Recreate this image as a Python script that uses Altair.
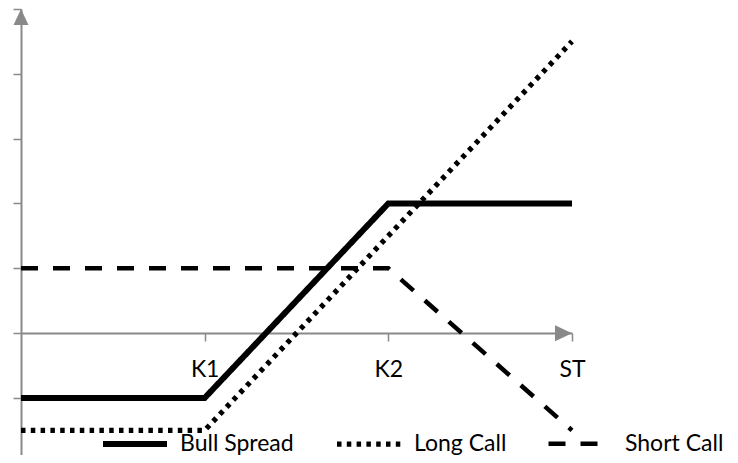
import altair as alt
import pandas as pd

# ---- data ----
x_vals = [0, 1, 2, 3]
x_labels = ["", "K1", "K2", "ST"]
series_names = ["Bull Spread", "Long Call", "Short Call"]
bull_spread = [-1, -1, 2, 2]
long_call = [-1.5, -1.5, 1.5, 4.5]
short_call = [1, 1, 1, -1.5]
y_ticks = [-2, -1, 0, 1, 2, 3, 4, 5]

x_domain = [0, 3]
y_domain = [-1.88, 5]

rows = []
for name, vals in zip(series_names, [bull_spread, long_call, short_call]):
    for x, v in zip(x_vals, vals):
        rows.append({"x": x, "value": v, "series": name})
df = pd.DataFrame(rows)

label_expr = " : ".join(
    f"datum.value == {v} ? '{l}'" for v, l in zip(x_vals, x_labels)
) + " : ''"

GRAY = "#898989"
FONT = "Lato"
FS = 23

x_scale = alt.Scale(domain=x_domain, nice=False, zero=False)
y_scale = alt.Scale(domain=y_domain, nice=False, zero=False)

legend = alt.Legend(
    title=None, orient="none", legendX=79, legendY=400,
    direction="horizontal", symbolType="stroke", symbolSize=4096,
    symbolStrokeColor="#000", labelFont=FONT, labelFontSize=FS,
    labelColor="#000", labelOffset=10, columnPadding=32, padding=0,
    labelLimit=0,
)

lines = alt.Chart(df).mark_line(strokeCap="butt").encode(
    x=alt.X("x:Q", scale=x_scale, axis=alt.Axis(
        values=x_vals[1:], labelExpr=label_expr, title=None, grid=False,
        domainColor=GRAY, domainWidth=2, tickColor=GRAY, tickWidth=1.5,
        tickSize=8, labelFont=FONT, labelFontSize=FS, labelColor="#000",
        labelPadding=17, offset=-122, labelFlush=False)),
    y=alt.Y("value:Q", scale=y_scale, axis=alt.Axis(
        values=y_ticks, labels=False, title=None, grid=False,
        domainColor=GRAY, domainWidth=2, tickColor=GRAY, tickWidth=1.5,
        tickSize=8)),
    color=alt.Color("series:N", scale=alt.Scale(domain=series_names,
                    range=["#000000"] * 3), legend=legend),
    strokeDash=alt.StrokeDash("series:N", scale=alt.Scale(
        domain=series_names, range=[[1, 0], [4.5, 5.3], [17, 15]]),
        legend=legend),
    strokeWidth=alt.StrokeWidth("series:N", scale=alt.Scale(
        domain=series_names, range=[6, 4.5, 4.5]), legend=legend),
    order="x:Q",
)

y_arrow_df = pd.DataFrame({"x": [x_domain[0]], "value": [y_domain[1]]})
x_arrow_df = pd.DataFrame({"x": [x_domain[1]], "value": [0]})

y_arrow = alt.Chart(y_arrow_df).mark_point(
    shape="M0,0 L0.9375,2 L-0.9375,2 Z", size=256, filled=True,
    color=GRAY, opacity=1, strokeWidth=0).encode(
    x=alt.X("x:Q", scale=x_scale), y=alt.Y("value:Q", scale=y_scale))

x_arrow = alt.Chart(x_arrow_df).mark_point(
    shape="M0,0 L-2.125,-1 L-2.125,1 Z", size=256, filled=True,
    color=GRAY, opacity=1, strokeWidth=0).encode(
    x=alt.X("x:Q", scale=x_scale), y=alt.Y("value:Q", scale=y_scale))

chart = alt.layer(lines, y_arrow, x_arrow).properties(
    width=551, height=446,
    autosize=alt.AutoSizeParams(type="none"),
    padding={"left": 13, "top": 1, "right": 158, "bottom": 0},
).configure(background="white").configure_view(strokeWidth=0, stroke=None)

chart.save("out.html", embed_options={"renderer": "svg", "actions": False})
